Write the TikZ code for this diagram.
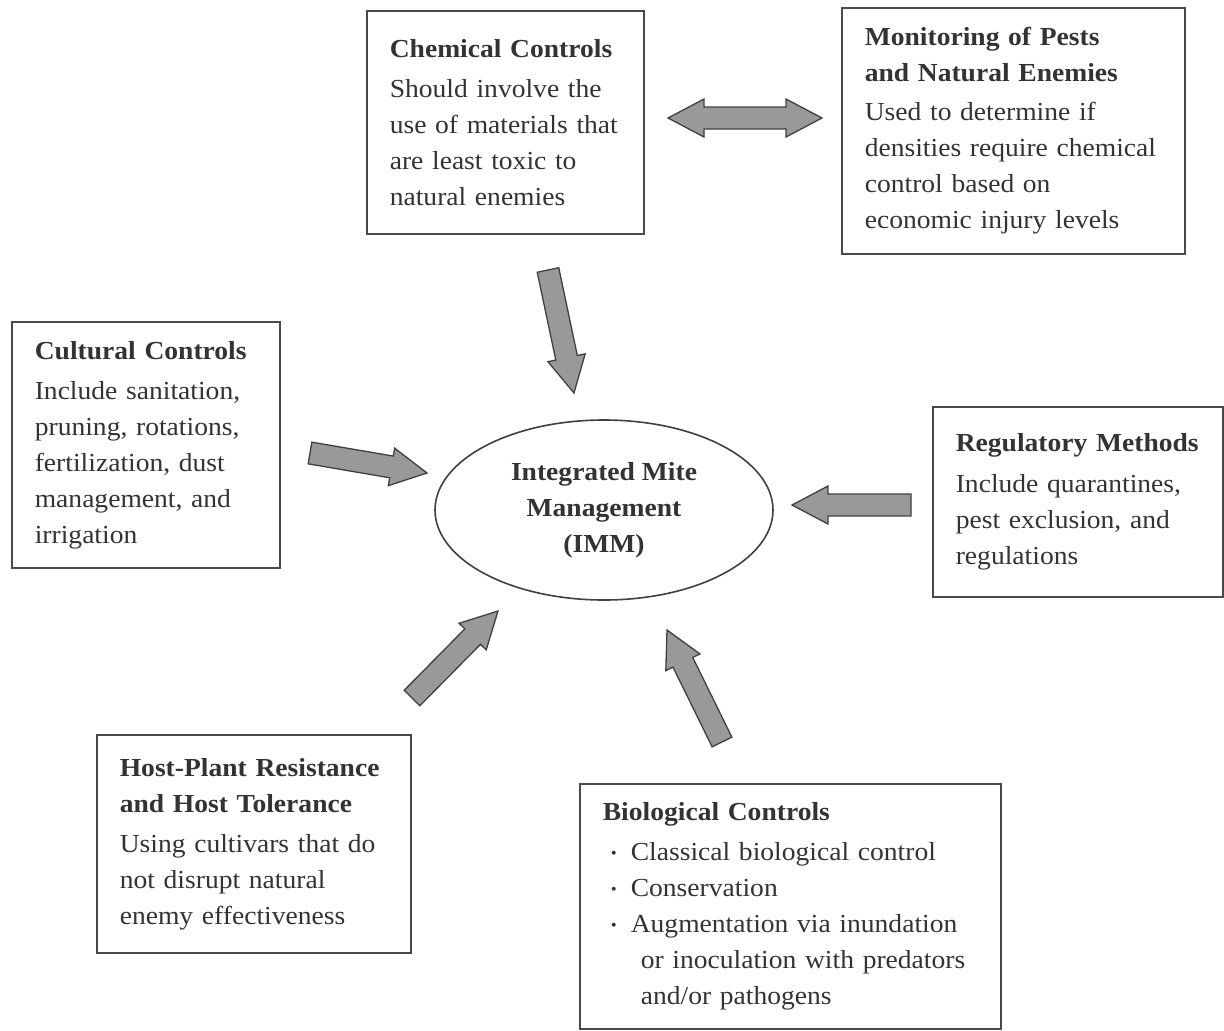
\documentclass[tikz,border=0pt]{standalone}
\usepackage{fontspec}
\setmainfont{Liberation Serif}[FakeStretch=1.06]
\usetikzlibrary{shapes.geometric}
\definecolor{txt}{HTML}{333333}
\definecolor{frame}{HTML}{4A4A4A}
\definecolor{afill}{HTML}{999999}
\definecolor{aline}{HTML}{404040}
\newdimen\baXa \newdimen\baYa \newdimen\baXb \newdimen\baYb
\newcommand\getends[2]{%
  \pgfextractx{\baXa}{\pgfpointanchor{#1}{center}}%
  \pgfextracty{\baYa}{\pgfpointanchor{#1}{center}}%
  \pgfextractx{\baXb}{\pgfpointanchor{#2}{center}}%
  \pgfextracty{\baYb}{\pgfpointanchor{#2}{center}}%
  \pgfmathsetmacro\baAng{atan2(\baYb-\baYa,\baXb-\baXa)}%
  \pgfmathsetmacro\baLen{veclen(\baXb-\baXa,\baYb-\baYa)}}
\newcommand\blockarrow[2]{%
  \getends{#1}{#2}%
  \begin{scope}[shift={(#1)}, rotate=\baAng]
    \draw[arrowbody] (0pt,-11pt) -- (\baLen pt-36pt,-11pt) -- (\baLen pt-36pt,-19pt)
      -- (\baLen pt,0pt) -- (\baLen pt-36pt,19pt) -- (\baLen pt-36pt,11pt) -- (0pt,11pt) -- cycle;
  \end{scope}}
\newcommand\doubleblockarrow[2]{%
  \getends{#1}{#2}%
  \begin{scope}[shift={(#1)}, rotate=\baAng]
    \draw[arrowbody] (0pt,0pt) -- (36pt,-19pt) -- (36pt,-11pt) -- (\baLen pt-36pt,-11pt) -- (\baLen pt-36pt,-19pt)
      -- (\baLen pt,0pt) -- (\baLen pt-36pt,19pt) -- (\baLen pt-36pt,11pt) -- (36pt,11pt) -- (36pt,19pt) -- cycle;
  \end{scope}}
\begin{document}
\begin{tikzpicture}[x=1pt,y=-1pt,
  box/.style={draw=frame, line width=1.6pt, anchor=north west, inner xsep=23pt, inner ysep=0pt,
    align=left, text=txt, font=\fontsize{26}{36}\selectfont},
  arrowbody/.style={draw=aline, fill=afill, line width=1.3pt, line join=miter}]
\useasboundingbox[fill=white] (0,0) rectangle (1224,1031);

\node[box, minimum width=277pt, minimum height=223pt, text width=231pt] (chem) at (366,10)
  {\textbf{Chemical Controls}\\[4pt]Should involve the\\use of materials that\\are least toxic to\\natural enemies};
\node[box, minimum width=343pt, minimum height=246pt, text width=297pt] (mon) at (841,7)
  {\textbf{Monitoring of Pests}\\\textbf{and Natural Enemies}\\[3pt]Used to determine if\\densities require chemical\\control based on\\economic injury levels};
\node[box, minimum width=268pt, minimum height=246pt, text width=222pt] (cult) at (11,321)
  {\textbf{Cultural Controls}\\[4pt]Include sanitation,\\pruning, rotations,\\fertilization, dust\\management, and\\irrigation};
\node[box, minimum width=290pt, minimum height=190pt, text width=244pt] (reg) at (932,406)
  {\textbf{Regulatory Methods}\\[5pt]Include quarantines,\\pest exclusion, and\\regulations};
\node[box, minimum width=314pt, minimum height=218pt, text width=268pt] (host) at (96,734)
  {\textbf{Host-Plant Resistance}\\\textbf{and Host Tolerance}\\[4pt]Using cultivars that do\\not disrupt natural\\enemy effectiveness};
\node[box, minimum width=421pt, minimum height=245pt, text width=375pt] (bio) at (579,783)
  {\textbf{Biological Controls}\\[4pt]%
   \makebox[22pt][c]{\fontsize{16}{16}\selectfont\raisebox{2pt}{•}}\hspace{6pt}Classical biological control\\
   \makebox[22pt][c]{\fontsize{16}{16}\selectfont\raisebox{2pt}{•}}\hspace{6pt}Conservation\\
   \makebox[22pt][c]{\fontsize{16}{16}\selectfont\raisebox{2pt}{•}}\hspace{6pt}Augmentation via inundation\\
   \hspace*{38pt}or inoculation with predators\\
   \hspace*{38pt}and/or pathogens};

\node[ellipse, draw=aline, line width=1.6pt, minimum width=338pt, minimum height=180pt,
  align=center, text=txt, font=\bfseries\fontsize{26}{36}\selectfont] (imm) at (604,510)
  {Integrated Mite\\Management\\(IMM)};

\coordinate (dA) at (668,118); \coordinate (dB) at (822,118);
\coordinate (c1) at (548,270); \coordinate (c2) at (574,393);
\coordinate (u1) at (310,453); \coordinate (u2) at (427,473);
\coordinate (r1) at (911,505); \coordinate (r2) at (792,505);
\coordinate (h1) at (412,698); \coordinate (h2) at (498,611);
\coordinate (b1) at (722,742); \coordinate (b2) at (667,630);

\doubleblockarrow{dA}{dB}
\blockarrow{c1}{c2}
\blockarrow{u1}{u2}
\blockarrow{r1}{r2}
\blockarrow{h1}{h2}
\blockarrow{b1}{b2}
\end{tikzpicture}
\end{document}
